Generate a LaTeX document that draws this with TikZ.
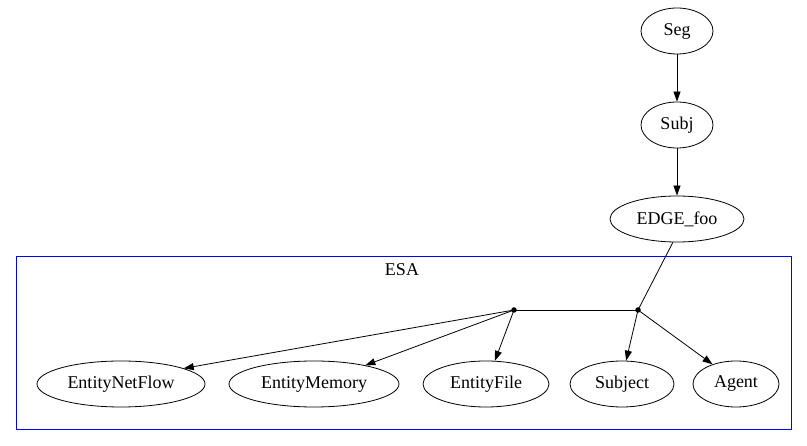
\documentclass[tikz,border=0pt]{standalone}
\usepackage{fontspec}
\setmainfont{Liberation Serif}
\usetikzlibrary{arrows.meta,shapes.geometric}
\begin{document}
\begin{tikzpicture}[x=1pt,y=-1pt,
  txt/.style={font=\fontsize{18}{20}\selectfont},
  ell/.style={draw,ellipse,inner sep=0pt,line width=0.8pt,txt},
  arr/.style={draw,line width=0.8pt,-{Triangle[length=10pt,width=7pt]}},
  ln/.style={draw,line width=0.8pt},
  dot/.style={circle,fill=black,inner sep=0pt,minimum size=5.5pt}]
\useasboundingbox (0,0) rectangle (807,446);
\draw[blue,line width=0.9pt] (16,256) rectangle (791,429);
\node[txt] (esa) at (402,270) {ESA};
\node[ell,minimum width=72pt,minimum height=46pt] (seg) at (677,31) {Seg};
\node[ell,minimum width=72pt,minimum height=46pt] (subj) at (677,125) {Subj};
\node[ell,minimum width=134pt,minimum height=46pt] (edge) at (677,219) {EDGE\_foo};
\node[dot] (p1) at (514,310) {};
\node[dot] (p2) at (638,310) {};
\node[ell,minimum width=168pt,minimum height=46pt] (enf) at (121,384) {EntityNetFlow};
\node[ell,minimum width=170pt,minimum height=46pt] (emem) at (314,384) {EntityMemory};
\node[ell,minimum width=126pt,minimum height=46pt] (efile) at (486,384) {EntityFile};
\node[ell,minimum width=104pt,minimum height=46pt] (subject) at (622,384) {Subject};
\node[ell,minimum width=86pt,minimum height=46pt] (agent) at (736,384) {Agent};
\draw[arr] (seg) -- (subj);
\draw[arr] (subj) -- (edge);
\draw[ln] (edge.-100) -- (p2.center);
\draw[ln] (p2.center) -- (p1.center);
\draw[arr] (p1.center) -- (enf.14);
\draw[arr] (p1.center) -- (emem.20);
\draw[arr] (p1.center) -- (efile.69);
\draw[arr] (p2.center) -- (subject.80);
\draw[arr] (p2.center) -- (agent.140);
\end{tikzpicture}
\end{document}
